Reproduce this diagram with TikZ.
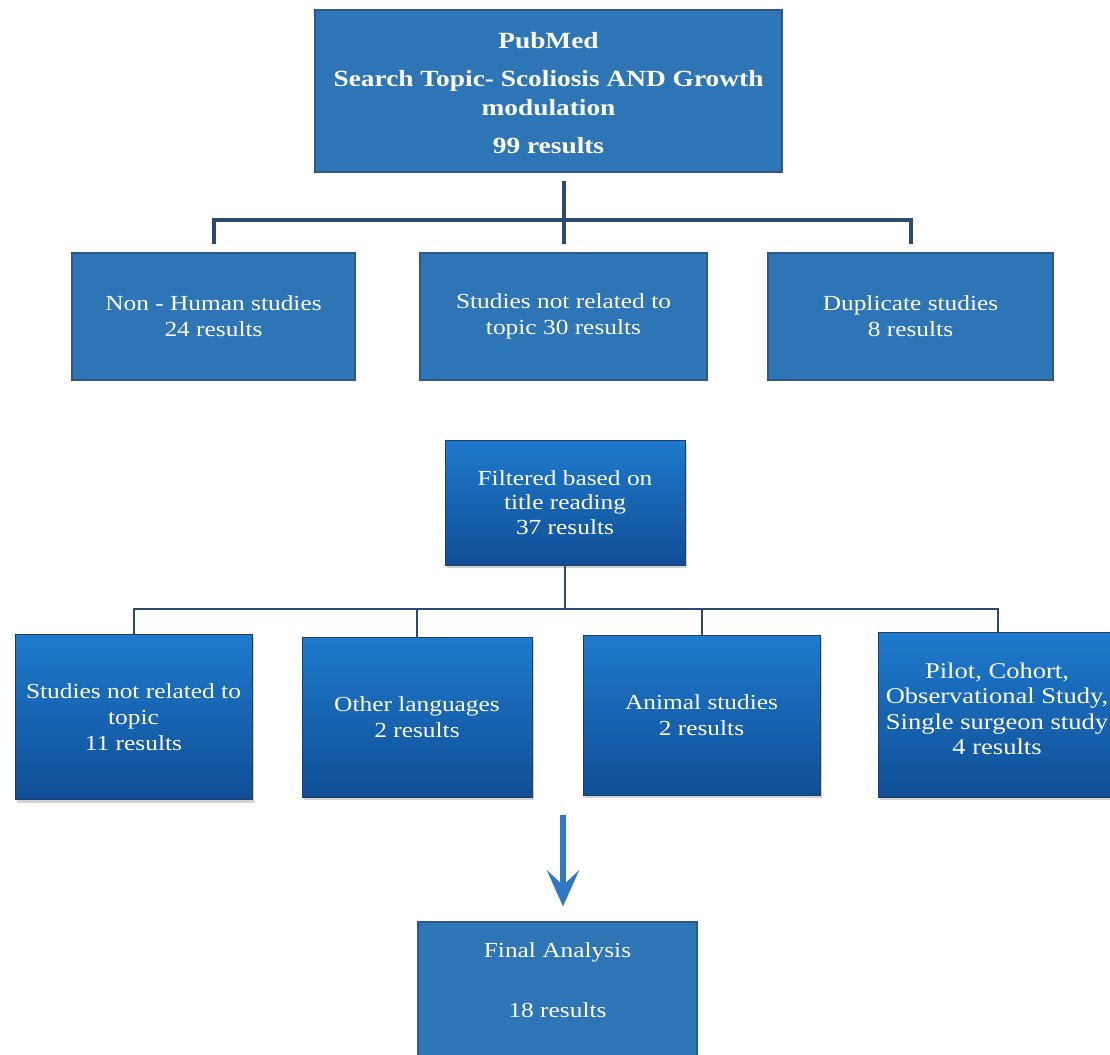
\documentclass[tikz,border=0pt]{standalone}
\usepackage{fontspec}
\setmainfont{Liberation Serif}[FakeStretch=1.18]
\usetikzlibrary{shadows,arrows.meta}
\definecolor{flatblue}{RGB}{46,117,182}
\definecolor{edgeblue}{RGB}{44,88,138}
\definecolor{gradtop}{RGB}{30,122,204}
\definecolor{gradbot}{RGB}{16,78,150}
\definecolor{navy}{RGB}{43,74,111}
\definecolor{arrowblue}{RGB}{46,120,196}
\begin{document}
\begin{tikzpicture}[x=1pt,y=-1pt,
  basetext/.style={text=white, align=center, inner sep=0pt, font=\fontsize{21.5}{26}\selectfont},
  flatbox/.style={basetext, draw=edgeblue, line width=1.2pt, fill=flatblue},
  gradbox/.style={basetext, draw=edgeblue!70!black, line width=0.8pt, top color=gradtop, bottom color=gradbot,
    drop shadow={shadow xshift=2pt, shadow yshift=-3pt, opacity=0.35}},
  plaintext/.style={basetext},
  conn/.style={draw=navy, line width=4pt},
  thinconn/.style={draw=navy, line width=2pt},
  bigarrow/.style={draw=arrowblue, line width=6pt, -{Stealth[length=36pt,width=32pt,inset=15pt]}},
]
\fill[white] (0,0) rectangle (1110,1054);
\useasboundingbox (0,0) rectangle (1110,1054);

% top box
\node[flatbox, minimum width=467pt, minimum height=162pt] (top) at (548.5,91) {};
\node[plaintext, font=\fontsize{23.2}{29}\selectfont\bfseries] (topt) at (548.5,93)
  {PubMed\\[9pt]Search Topic- Scoliosis AND Growth\\modulation\\[9pt]99 results};

% row 1
\node[flatbox, minimum width=283pt, minimum height=127pt] (b1) at (213.5,316.5) {Non - Human studies\\24 results};
\node[flatbox, minimum width=287pt, minimum height=127pt] (b2) at (563.5,316.5) {Studies not related to\\topic 30 results};
\node[flatbox, minimum width=285pt, minimum height=127pt] (b3) at (910.5,316.5) {Duplicate studies\\8 results};

\coordinate (jtop) at (563,220);
\draw[conn] ([yshift=-8pt]b2.north |- top.south) -- ([yshift=8pt]b2.north);
\draw[conn] ([yshift=8pt]b1.north) -- (b1.north |- jtop) -- (b3.north |- jtop) -- ([yshift=8pt]b3.north);

% filtered
\node[gradbox, minimum width=240pt, minimum height=125pt, font=\fontsize{21.5}{24.5}\selectfont] (f) at (565,502.5)
  {Filtered based on\\title reading\\37 results};

% row 2
\node[gradbox, minimum width=237pt, minimum height=165pt] (c1) at (133.5,717) {Studies not related to\\topic\\11 results};
\node[gradbox, minimum width=230pt, minimum height=160pt] (c2) at (417,717) {Other languages\\2 results};
\node[gradbox, minimum width=237pt, minimum height=160pt] (c3) at (701.5,715) {Animal studies\\2 results};
\node[gradbox, minimum width=240pt, minimum height=165pt] (c4) at (998,714.5) {};
\node[plaintext, font=\fontsize{22.5}{25.5}\selectfont] (c4t) at (997,709) {Pilot, Cohort,\\Observational Study,\\Single surgeon study\\4 results};

\coordinate (jmid) at (566,609);
\draw[thinconn] (f.south) -- (f.south |- jmid);
\draw[thinconn] (c1.north) -- (c1.north |- jmid) -- (c4.north |- jmid) -- (c4.north);
\draw[thinconn] (c2.north |- jmid) -- (c2.north);
\draw[thinconn] (c3.north |- jmid) -- (c3.north);

% final
\node[flatbox, minimum width=279pt, minimum height=140pt] (fin) at (557.5,992) {};
\node[plaintext] (fint) at (557.5,980) {Final Analysis\\[34pt]18 results};

\coordinate (astart) at (563,815);
\draw[bigarrow] (astart) -- ([yshift=15pt]astart |- fin.north);
\end{tikzpicture}
\end{document}
